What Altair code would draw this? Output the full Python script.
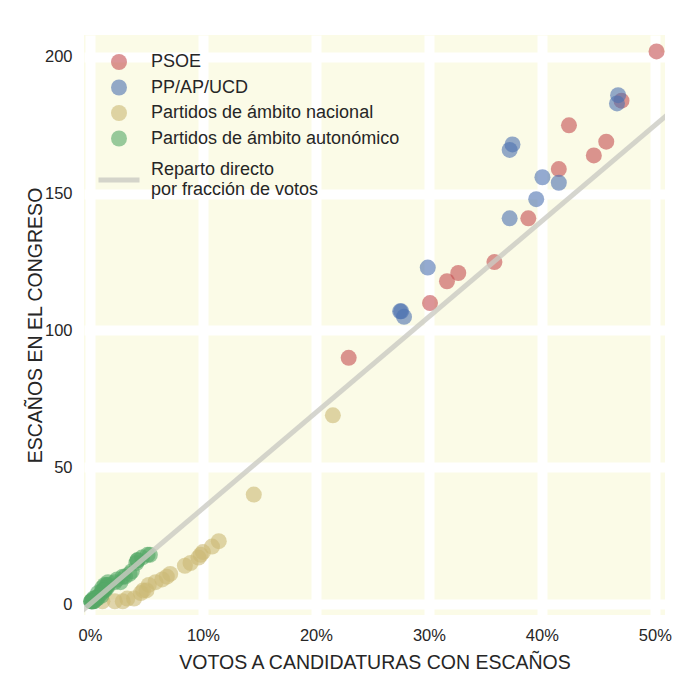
import altair as alt
import pandas as pd

# ---- data (vote share %, seats) ----
psoe_pct = [50.15, 47.05, 42.4, 45.7, 44.6, 41.5, 38.8, 35.8, 32.6, 31.6, 30.1, 22.9]
psoe_seats = [202, 184, 175, 169, 164, 159, 141, 125, 121, 118, 110, 90]

pp_pct = [46.75, 46.65, 37.4, 37.15, 40.05, 41.5, 39.5, 37.15, 29.9, 27.55, 27.45, 27.8]
pp_seats = [186, 183, 168, 166, 156, 154, 148, 141, 123, 107, 107, 105]

nac_pct = [21.5, 14.5, 11.4, 10.8, 10.0, 9.8, 9.6, 8.9, 8.4, 7.1, 6.8, 6.4,
           5.8, 5.2, 5.0, 4.7, 4.5, 3.9, 3.3, 2.9, 2.2, 1.1]
nac_seats = [69, 40, 23, 21, 19, 18, 17, 15, 14, 11, 10, 9,
             8, 7, 5, 5, 4, 2, 2, 1, 1, 1]

aut_pct = [5.3, 5.1, 4.6, 4.2, 4.1, 4.2, 3.7, 3.5, 3.1, 2.9, 2.7, 2.4, 2.2,
           1.6, 1.6, 1.5, 1.5, 1.3, 1.4, 1.2, 1.1, 1.2, 1.1, 1.3, 1.0, 0.8,
           1.0, 0.7, 0.6, 0.5, 0.6, 0.4, 0.3, 0.2, 0.1, 0.2, 0.1, 0.15, 0.3, 0.35]
aut_seats = [18, 18, 17, 16, 15, 16, 12, 11, 10, 10, 8, 9, 8,
             8, 7, 7, 6, 7, 6, 5, 5, 5, 6, 5, 4, 3,
             3, 4, 2, 2, 2, 2, 1, 1, 1, 1, 1, 1, 2, 1]

groups = ["PSOE", "PP/AP/UCD", "Partidos de ámbito nacional", "Partidos de ámbito autonómico"]
group_colors = ["#c44e52", "#4c72b0", "#ccb974", "#55a868"]

line_label = "Reparto directo|por fracción de votos"
line_pct = [-1.0, 52.0]
total_seats = 350

x_ticks = [0, 10, 20, 30, 40, 50]
y_ticks = [0, 50, 100, 150, 200]

rows = []
for g, xs, ys in zip(groups, [psoe_pct, pp_pct, nac_pct, aut_pct],
                     [psoe_seats, pp_seats, nac_seats, aut_seats]):
    for a, b in zip(xs, ys):
        rows.append({"pct": a, "seats": b, "grupo": g})
df = pd.DataFrame(rows)

line_df = pd.DataFrame({"pct": line_pct,
                        "seats": [p * total_seats / 100 for p in line_pct],
                        "serie": [line_label] * len(line_pct)})

FONT = "Liberation Sans"
TXT = "#262626"

x_enc = alt.X("pct:Q",
              scale=alt.Scale(domain=[-0.53, 50.9], nice=False, zero=False),
              axis=alt.Axis(values=x_ticks, labelExpr="datum.value + '%'",
                            title="VOTOS A CANDIDATURAS CON ESCAÑOS"))
y_enc = alt.Y("seats:Q",
              scale=alt.Scale(domain=[-4, 208], nice=False, zero=False),
              axis=alt.Axis(values=y_ticks, title="ESCAÑOS EN EL CONGRESO"))

points = alt.Chart(df).mark_circle(size=256, opacity=0.6).encode(
    x=x_enc, y=y_enc,
    color=alt.Color("grupo:N",
                    scale=alt.Scale(domain=groups, range=group_colors),
                    legend=alt.Legend(orient="none", legendX=26, legendY=18,
                                      title=None, symbolType="circle",
                                      symbolSize=256, symbolOpacity=0.6,
                                      symbolStrokeWidth=0,
                                      labelFontSize=18, labelFont=FONT,
                                      labelColor=TXT, labelOffset=23,
                                      rowPadding=7.5, labelLimit=400)),
)

line = alt.Chart(line_df).mark_line(strokeWidth=5, color="#cbcbc3", opacity=0.8, clip=True).encode(
    x=x_enc, y=y_enc,
    stroke=alt.Stroke("serie:N",
                      scale=alt.Scale(domain=[line_label], range=["#cbcbc3"]),
                      legend=alt.Legend(orient="none", legendX=12, legendY=122,
                                        title=None, symbolType="stroke",
                                        symbolSize=1681, symbolStrokeWidth=5,
                                        symbolOpacity=0.8,
                                        labelExpr="split(datum.label, '|')",
                                        labelBaseline="line-bottom",
                                        labelFontSize=18, labelFont=FONT,
                                        labelColor=TXT, labelOffset=9,
                                        labelLimit=400)),
)

chart = alt.layer(points, line).resolve_legend(color="independent", stroke="independent").properties(
    width=581, height=580,
    autosize=alt.AutoSizeParams(type="none"),
    padding={"left": 76, "top": 27, "right": 20, "bottom": 60},
).configure_view(
    fill="#fbfbe7", stroke=None
).configure_axis(
    grid=True, gridColor="white", gridWidth=10, gridOpacity=1,
    domain=False, ticks=False,
    labelFont=FONT, labelFontSize=16.5, labelColor=TXT, labelPadding=12,
    titleFont=FONT, titleFontSize=19.5, titleFontWeight="normal", titleColor=TXT,
).configure_axisX(
    titlePadding=10
).configure_axisY(
    titlePadding=-1
)

chart.save("out.html", embed_options={"renderer": "svg", "actions": False})
